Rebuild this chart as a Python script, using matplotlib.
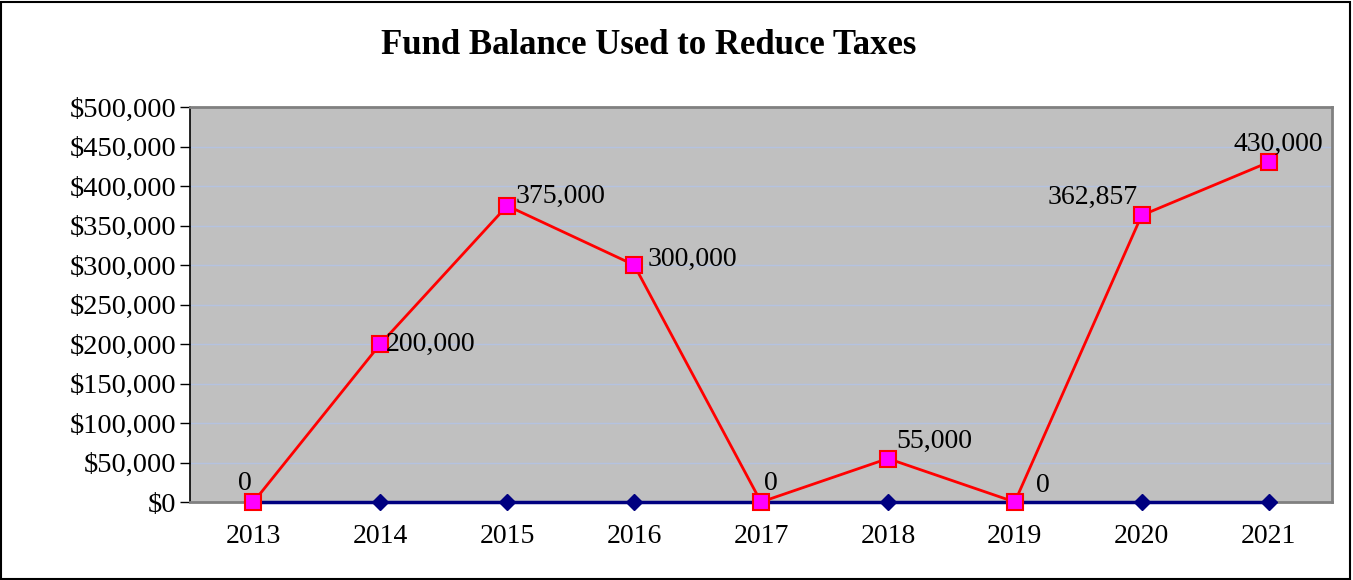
import numpy as np
import matplotlib
matplotlib.use("Agg")
import matplotlib.pyplot as plt
from matplotlib.patches import Rectangle
from matplotlib.ticker import FuncFormatter

matplotlib.rc('font', family=['Liberation Serif', 'DejaVu Serif'], size=14)

years = ["2013", "2014", "2015", "2016", "2017", "2018", "2019", "2020", "2021"]
fund_used = [0, 200000, 375000, 300000, 0, 55000, 0, 362857, 430000]
baseline = [0, 0, 0, 0, 0, 0, 0, 0, 0]
labels = ["0", "200,000", "375,000", "300,000", "0", "55,000", "0", "362,857", "430,000"]

# label offsets in points (dx, dy), horizontal and vertical alignment
offs = [(-1, 4, 'right', 'bottom'), (4, 0, 'left', 'center'), (6, 7, 'left', 'center'),
        (10, 4, 'left', 'center'), (2, 4, 'left', 'bottom'), (6, 3, 'left', 'bottom'),
        (15, 3, 'left', 'bottom'), (-3, 4, 'right', 'bottom'), (7, 4, 'center', 'bottom')]

fig = plt.figure(figsize=(13.53, 5.8), dpi=100)
ax = fig.add_axes([190/1353, 1-502/580, 1142/1353, 395/580])
ax.set_facecolor('#C0C0C0')

x = np.arange(len(years))
ax.plot(x, baseline, color='#000080', lw=2.5, marker='D', ms=8,
        mfc='#000080', mec='#000080', zorder=3, clip_on=False)
ax.plot(x, fund_used, color='#FF0000', lw=2, marker='s', ms=11,
        mfc='#FF00FF', mec='#FF0000', mew=1.5, zorder=4, clip_on=False)

for i, (v, t) in enumerate(zip(fund_used, labels)):
    dx, dy, ha, va = offs[i]
    ax.annotate(t, (x[i], v), xytext=(dx, dy), textcoords='offset points',
                ha=ha, va=va, fontsize=20, zorder=5)

ax.set_xlim(-0.5, len(years) - 0.5)
ax.set_ylim(0, 500000)
ax.set_yticks(np.arange(0, 500001, 50000))
ax.yaxis.set_major_formatter(FuncFormatter(lambda v, p: "${:,.0f}".format(v)))
ax.set_xticks(x)
ax.set_xticklabels(years)
ax.tick_params(axis='y', direction='out', length=7, width=1, labelsize=20.5, pad=3)
ax.tick_params(axis='x', length=0, labelsize=20, pad=16)
ax.grid(axis='y', color='#B4C2E0', lw=1)
ax.set_axisbelow(True)

for s in ['top', 'right', 'bottom']:
    ax.spines[s].set_color('#808080')
    ax.spines[s].set_linewidth(2)
ax.spines['left'].set_color('black')
ax.spines['left'].set_linewidth(1.2)

fig.text(649/1353, 1-46/580, "Fund Balance Used to Reduce Taxes",
         ha='center', va='center', fontsize=25, fontweight='bold')

fig.patches.append(Rectangle((0.001, 0.002), 0.997, 0.995, transform=fig.transFigure,
                             fill=False, edgecolor='black', lw=1.5))

fig.savefig("out.png", dpi=100)
